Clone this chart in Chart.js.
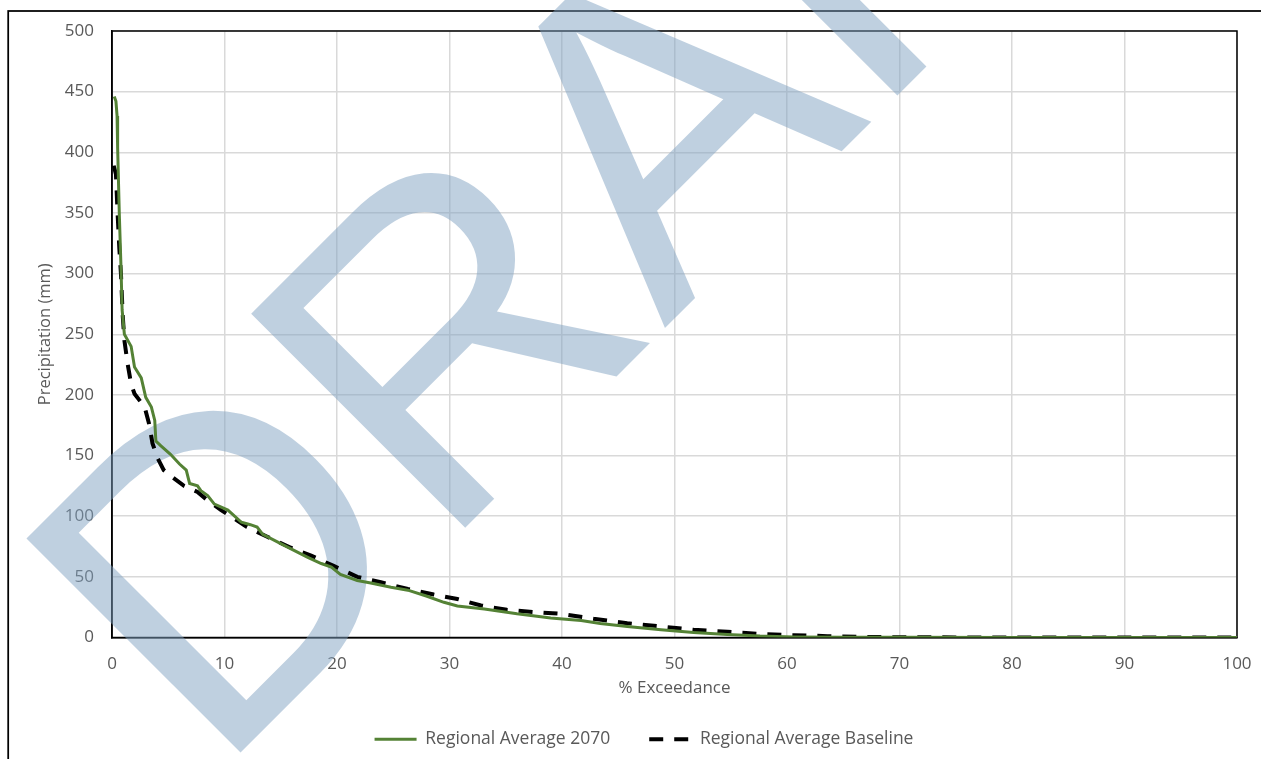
<!DOCTYPE html>
<html>
<head>
<meta charset="utf-8">
<script src="https://cdn.jsdelivr.net/npm/chart.js@4/dist/chart.umd.min.js"></script>
<style>
  html, body { margin: 0; padding: 0; background: #fff; }
  #wrap { width: 1261px; height: 759px; }
</style>
</head>
<body>
<div id="wrap"><canvas id="chExceed"></canvas></div>
<script>
// % exceedance vs precipitation (mm)
var x2070 = [0.2, 0.35, 0.45, 0.5, 0.65, 0.8, 0.9, 1.1, 1.7, 2.0, 2.6, 3.0, 3.5, 3.8, 3.9, 4.35, 5.2, 6.0, 6.6, 6.9, 7.6, 7.9, 8.5, 9.1, 10.3, 11.5, 12.3, 12.9, 13.4, 15.3, 17.4, 18.6, 19.5, 20.3, 21.8, 23.0, 24.8, 26.3, 28.0, 29.5, 30.7, 33.1, 36.0, 39.0, 41.7, 43.4, 45.8, 48.8, 51.7, 54.7, 57.6, 60.6, 65, 70, 80, 90, 100];
var y2070 = [446, 442, 430, 404, 349, 305, 270, 250, 240, 223, 214, 198, 190, 179, 162, 158, 151, 143, 138, 127, 125, 121, 117, 110, 105, 95, 93, 91, 85, 76, 66, 61, 58, 52, 47, 45, 41.5, 39, 34, 29, 26, 23.5, 19.5, 16, 14, 11.5, 9, 6.3, 4.1, 2.5, 1.2, 0.5, 0.3, 0.2, 0.1, 0, 0];

var xBase = [0.15, 0.35, 0.5, 0.65, 0.8, 0.95, 1.1, 1.4, 1.7, 2.0, 2.9, 3.3, 3.6, 4.05, 4.6, 5.4, 6.4, 7.6, 8.5, 9.7, 11.2, 12.0, 13.8, 15.9, 17.7, 19.7, 21.8, 23.9, 26.3, 28.6, 30.7, 32.8, 35.1, 37.5, 39.9, 42.8, 45.8, 48.8, 51.7, 54.7, 57.6, 60.6, 63.6, 66.5, 69.5, 75, 100];
var yBase = [389, 382, 349, 321, 299, 266, 245, 225, 209, 201, 190, 176, 160, 148, 138, 132, 125, 120, 113, 105, 96, 91, 83, 74, 67.5, 59, 50, 45.5, 40, 35.4, 31.7, 26.4, 22.8, 21, 19.5, 15.4, 11.8, 9.1, 6.3, 4.7, 3.0, 1.9, 1.1, 0.5, 0.2, 0.1, 0];

var seriesNames = ['Regional Average 2070', 'Regional Average Baseline'];
var colors = ['#548235', '#000000'];
var txt = '#595959';
var fontFam = '"Open Sans", sans-serif';

function pts(xs, ys) {
  return xs.map(function (x, i) { return {x: x, y: ys[i]}; });
}

// outer frame, plot frame and the DRAFT watermark
var draftMark = {
  id: 'draftMark',
  beforeDraw: function (chart) {
    var ctx = chart.ctx;
    ctx.save();
    ctx.strokeStyle = '#000';
    ctx.lineWidth = 1.75;
    ctx.strokeRect(8.2, 11, 3000, 3000);
    ctx.restore();
  },
  beforeDatasetsDraw: function (chart) {
    var ctx = chart.ctx, a = chart.chartArea;
    ctx.save();
    ctx.strokeStyle = '#000';
    ctx.lineWidth = 1.5;
    ctx.strokeRect(a.left, a.top, a.right - a.left, a.bottom - a.top);
    ctx.translate(215, 778);
    ctx.rotate(-Math.PI / 4);
    ctx.font = '440px "Liberation Sans"';
    ctx.fillStyle = 'rgba(128,162,193,0.5)';
    ctx.textBaseline = 'alphabetic';
    ctx.fillText('DRAFT', 0, 0);
    ctx.restore();
  }
};

var chExceed = document.getElementById('chExceed');
if (chExceed) {
  new Chart(chExceed, {
    type: 'line',
    data: {
      datasets: [
        {
          label: seriesNames[0],
          data: pts(x2070, y2070),
          borderColor: colors[0],
          backgroundColor: colors[0],
          borderWidth: 3,
          pointRadius: 0,
          tension: 0,
          pointStyle: 'line'
        },
        {
          label: seriesNames[1],
          data: pts(xBase, yBase),
          borderColor: colors[1],
          backgroundColor: colors[1],
          borderWidth: 4,
          borderDash: [14, 11],
          pointRadius: 0,
          tension: 0,
          pointStyle: 'line'
        }
      ]
    },
    options: {
      responsive: true,
      maintainAspectRatio: false,
      animation: false,
      layout: {padding: {left: 51, top: 31, right: 24, bottom: 1}},
      plugins: {
        tooltip: {enabled: false},
        legend: {
          position: 'bottom',
          labels: {
            usePointStyle: true,
            pointStyleWidth: 42,
            padding: 39,
            color: txt,
            font: {family: fontFam, size: 17.5},
            // point style legend ignores the dataset dash, so copy it over
            generateLabels: function (chart) {
              var items = Chart.defaults.plugins.legend.labels.generateLabels(chart);
              items.forEach(function (it) {
                var ds = chart.data.datasets[it.datasetIndex];
                it.lineDash = ds.borderDash || [];
                it.lineWidth = ds.borderWidth;
              });
              return items;
            }
          }
        }
      },
      scales: {
        x: {
          type: 'linear',
          min: 0, max: 100,
          ticks: {stepSize: 10, color: txt, padding: 16, font: {family: fontFam, size: 17}, maxRotation: 0},
          grid: {color: '#D9D9D9', lineWidth: 1.5, drawTicks: false},
          border: {color: '#000', width: 1.5},
          title: {display: true, text: '% Exceedance', color: txt, font: {family: fontFam, size: 17}, padding: {top: 0, bottom: -7.2}},
          afterFit: function (s) { s.height = 54; s.paddingLeft = 0; s.paddingRight = 0; }
        },
        y: {
          min: 0, max: 500,
          ticks: {stepSize: 50, color: txt, padding: 18, font: {family: fontFam, size: 17}},
          grid: {color: '#D9D9D9', lineWidth: 1.5, drawTicks: false},
          border: {color: '#000', width: 1.5},
          title: {display: true, text: 'Precipitation (mm)', color: txt, font: {family: fontFam, size: 16.5}, padding: {top: -16, bottom: 0}},
          afterFit: function (s) { s.width = 61; s.paddingTop = 0; s.paddingBottom = 0; }
        }
      }
    },
    plugins: [draftMark]
  });
}
</script>
</body>
</html>
